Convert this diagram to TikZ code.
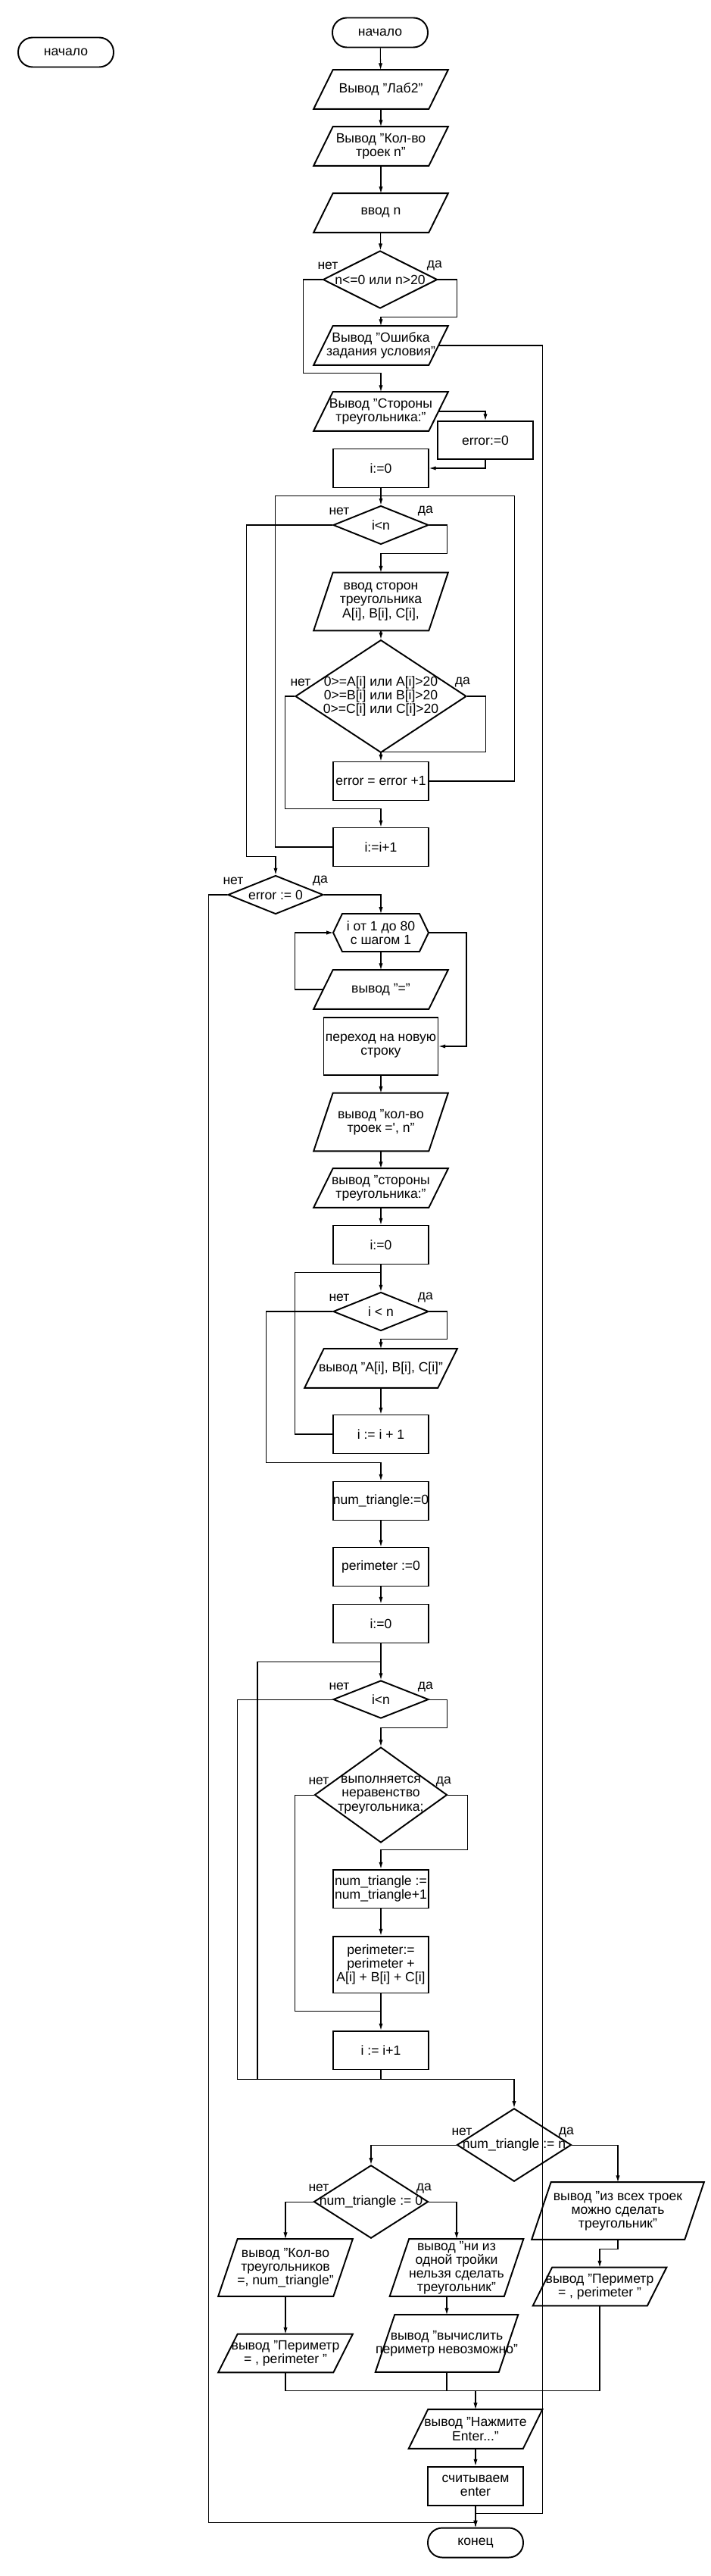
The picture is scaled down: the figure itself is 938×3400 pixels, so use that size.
\documentclass[tikz,border=0pt]{standalone}
\usepackage{fontspec}
\setmainfont{Liberation Sans}
\usetikzlibrary{shapes.geometric,arrows.meta}
\tikzset{
    term/.style={draw, line width=1.1pt, rounded corners=0.38cm, minimum width=2.52cm, minimum height=0.78cm, inner sep=1pt},
    proc/.style={draw, line width=1.1pt, minimum width=2.52cm, minimum height=1.02cm, inner sep=-3pt, align=center},
    io/.style={minimum width=3.54cm, minimum height=1.02cm, inner sep=0pt, align=center,
        append after command={\pgfextra{\draw [line width=1.1pt] ([xshift=0.51cm]\tikzlastnode.north west) -- (\tikzlastnode.north east) -- ([xshift=-0.51cm]\tikzlastnode.south east) -- (\tikzlastnode.south west) -- cycle;}}},
    iotall/.style={io, minimum height=1.52cm},
    cond/.style={draw, line width=1.1pt, diamond, minimum width=2.52cm, minimum height=1.02cm, inner sep=-8pt, align=center},
    lbl/.style={inner sep=1pt},
    line/.style={line width=0.6pt}
}
\begin{document}
\begin{tikzpicture}[x=0.02cm, y=-0.02cm, >={Latex[length=5pt,width=3pt]}, font=\fontsize{10}{10.3}\selectfont]
        \useasboundingbox (0,0) rectangle (938,3400);
        \node [term] (startL) at (87,69) {начало};
        \node [term] (start) at (502,43) {начало};
        \node [io] (outLab) at (503,118) {Вывод "Лаб2"};
        \node [io] (outCnt) at (503,193) {Вывод "Кол-во\\троек n"};
        \node [io] (inN) at (503,281) {ввод n};
        \node [cond, minimum width=3.02cm, minimum height=1.52cm] (chkN) at (502,369) {n<=0 или n>20};
        \node [io] (outErr) at (503,456) {Вывод "Ошибка\\задания условия"};
        \node [io] (outSides) at (503,543) {Вывод "Стороны\\треугольника:"};
        \node [proc, minimum height=1cm] (err0) at (641,581) {error:=0};
        \node [proc] (i0) at (503,618) {i:=0};
        \node [cond] (loop1) at (503,693) {i<n};
        \node [iotall] (inSides) at (503,794) {ввод сторон\\треугольника\\A[i], B[i], C[i],};
        \node [cond, minimum width=4.52cm, minimum height=2.52cm] (chkSides) at (503,919) {0>=A[i] или A[i]>20\\0>=B[i] или B[i]>20\\0>=C[i] или C[i]>20};
        \node [proc] (errInc) at (503,1031) {error = error +1};
        \node [proc] (inc1) at (503,1118) {i:=i+1};
        \node [cond] (chkErr) at (364,1181) {error := 0};
        \node [minimum width=2.52cm, minimum height=1cm, inner sep=0pt, outer sep=0pt, align=center] (forLoop) at (503,1231) {i от 1 до 80\\с шагом 1};
        \draw [line width=1.1pt] (forLoop.west) -- ([xshift=0.24cm]forLoop.north west) -- ([xshift=-0.24cm]forLoop.north east) -- (forLoop.east) -- ([xshift=-0.24cm]forLoop.south east) -- ([xshift=0.24cm]forLoop.south west) -- cycle;
        \node [io] (outEq) at (503,1306) {вывод "="};
        \node [proc, minimum width=3.02cm, minimum height=1.52cm] (newLine) at (503,1381) {переход на новую\\строку};
        \node [iotall] (outCntN) at (503,1481) {вывод "кол-во\\троек =\textquotesingle, n"};
        \node [io] (outSides2) at (503,1568) {вывод "стороны\\треугольника:"};
        \node [proc] (i0b) at (503,1643) {i:=0};
        \node [cond] (loop2) at (503,1731) {i < n};
        \node [io, minimum width=4.02cm] (outABC) at (503,1806) {вывод "A[i], B[i], C[i]"};
        \node [proc] (inc2) at (503,1893) {i := i + 1};
        \node [proc] (numT0) at (503,1981) {num\_triangle:=0};
        \node [proc] (per0) at (503,2068) {perimeter :=0};
        \node [proc] (i0c) at (503,2143) {i:=0};
        \node [cond, minimum height=1cm] (loop3) at (503,2243) {i<n};
        \node [cond, minimum width=3.5cm, minimum height=2.52cm] (chkTri) at (503,2369) {выполняется\\неравенство\\треугольника;};
        \node [proc] (numTInc) at (503,2493) {num\_triangle :=\\num\_triangle+1};
        \node [proc, minimum height=1.5cm] (perAdd) at (503,2593) {perimeter:=\\perimeter +\\A[i] + B[i] + C[i]};
        \node [proc] (inc3) at (503,2706) {i := i+1};
        \node [cond, minimum width=3.02cm, minimum height=1.52cm] (chkAll) at (679,2831) {num\_triangle := n};
        \node [cond, minimum width=3.02cm, minimum height=1.5cm] (chkNone) at (490,2906) {num\_triangle := 0};
        \node [iotall, minimum height=1.5cm] (outCntT) at (377,2993) {вывод "Кол-во\\треугольников\\=, num\_triangle"};
        \node [iotall, minimum height=1.5cm, minimum width=3.52cm] (outNone) at (603,2993) {вывод "ни из\\одной тройки\\нельзя сделать\\треугольник"};
        \node [iotall, minimum height=1.5cm, minimum width=4.54cm] (outAll) at (816,2918) {вывод "из всех троек\\можно сделать\\треугольник"};
        \node [io, minimum height=1cm, minimum width=3.52cm] (outPerR) at (792,3018) {вывод "Периметр\\= , perimeter "};
        \node [io, minimum height=1cm] (outPerL) at (377,3106) {вывод "Периметр\\= , perimeter "};
        \node [iotall, minimum height=1.5cm] (outNoPer) at (590,3093) {вывод "вычислить\\периметр невозможно"};
        \node [io, minimum width=3.52cm] (outEnter) at (628,3206) {вывод "Нажмите\\Enter..."};
        \node [proc] (readEnter) at (628,3281) {считываем\\enter};
        \node [term] (stop) at (628,3356) {конец};
        \node [lbl] (chkNno) at (433,351) {нет};
        \node [lbl] (chkNyes) at (574,351) {да};
        \node [lbl] (loop1no) at (448,675) {нет};
        \node [lbl] (loop1yes) at (562,675) {да};
        \node [lbl] (chkSidesno) at (397,901) {нет};
        \node [lbl] (chkSidesyes) at (611,901) {да};
        \node [lbl] (chkErrno) at (308,1163) {нет};
        \node [lbl] (chkErryes) at (423,1163) {да};
        \node [lbl] (loop2no) at (448,1713) {нет};
        \node [lbl] (loop2yes) at (562,1713) {да};
        \node [lbl] (loop3no) at (448,2226) {нет};
        \node [lbl] (loop3yes) at (562,2226) {да};
        \node [lbl] (chkTrino) at (421,2351) {нет};
        \node [lbl] (chkTriyes) at (586,2351) {да};
        \node [lbl] (chkAllno) at (610,2814) {нет};
        \node [lbl] (chkAllyes) at (748,2814) {да};
        \node [lbl] (chkNoneno) at (421,2888) {нет};
        \node [lbl] (chkNoneyes) at (560,2888) {да};
        \coordinate (join) at ([yshift=0.5cm]outEnter.north);
        \draw [line,->] (start) -- (outLab);
        \draw [line,->] (outLab) -- (outCnt);
        \draw [line,->] (outCnt) -- (inN);
        \draw [line,->] (inN) -- (chkN);
        \draw [line,->] (chkN.west) -- ++(-25,0) |- ([yshift=0.5cm]outSides.north) -- (outSides.north);
        \draw [line,->] (chkN.east) -- ++(25,0) |- ([yshift=0.24cm]outErr.north) -- (outErr.north);
        \draw [line,->] ([xshift=-0.25cm]outErr.east) -- ++(137,0) |- ([yshift=0.36cm]stop.north) -- (stop.north);
        \draw [line,->] ([xshift=-0.25cm]outSides.east) -| (err0.north);
        \draw [line,->] (err0.south) |- (i0.east);
        \draw [line,->] (i0) -- (loop1);
        \draw [line,->] (loop1.west) -- ++(-114,0) |- ([yshift=0.48cm]chkErr.north) -- (chkErr.north);
        \draw [line,->] (loop1.east) -- ++(24,0) |- ([yshift=0.5cm]inSides.north) -- (inSides.north);
        \draw [line,->] (inSides) -- (chkSides);
        \draw [line,->] (chkSides.west) -- ++(-13,0) |- ([yshift=0.48cm]inc1.north) -- (inc1.north);
        \draw [line,->] (chkSides.east) -- ++(25,0) |- ([yshift=0.24cm]errInc.north) -- (errInc.north);
        \draw [line] (errInc.east) -- ++(113,0) |- ([yshift=0.24cm]loop1.north);
        \draw [line] (inc1.west) -- ++(-76,0) |- ([yshift=0.24cm]loop1.north);
        \draw [line,->] (chkErr.west) -- ++(-25,0) |- ([yshift=0.12cm]stop.north) -- (stop.north);
        \draw [line,->] (chkErr.east) -| (forLoop.north);
        \draw [line,->] (forLoop) -- (outEq);
        \draw [line,->] ([xshift=0.25cm]outEq.west) -- ++(-37,0) |- (forLoop.west);
        \draw [line,->] (forLoop.east) -- ++(50,0) |- (newLine.east);
        \draw [line,->] (newLine) -- (outCntN);
        \draw [line,->] (outCntN) -- (outSides2);
        \draw [line,->] (outSides2) -- (i0b);
        \draw [line,->] (i0b) -- (loop2);
        \draw [line,->] (loop2.west) -- ++(-88,0) |- ([yshift=0.48cm]numT0.north) -- (numT0.north);
        \draw [line,->] (loop2.east) -- ++(24,0) |- ([yshift=0.26cm]outABC.north) -- (outABC.north);
        \draw [line,->] (outABC) -- (inc2);
        \draw [line] (inc2.west) -- ++(-50,0) |- ([yshift=0.5cm]loop2.north);
        \draw [line,->] (numT0) -- (per0);
        \draw [line,->] (per0) -- (i0c);
        \draw [line,->] (i0c) -- (loop3);
        \draw [line,->] (loop3.west) -- ++(-126,0) |- ([yshift=0.74cm]chkAll.north) -- (chkAll.north);
        \draw [line,->] (loop3.east) -- ++(24,0) |- ([yshift=0.5cm]chkTri.north) -- (chkTri.north);
        \draw [line] (chkTri.west) -- ++(-25,0) |- ([yshift=0.5cm]inc3.north);
        \draw [line,->] (chkTri.east) -- ++(26,0) |- ([yshift=0.5cm]numTInc.north) -- (numTInc.north);
        \draw [line,->] (numTInc) -- (perAdd);
        \draw [line,->] (perAdd) -- (inc3);
        \draw [line] (inc3.south) -- ++(0,12) -- ++(-163,0) |- ([yshift=0.48cm]loop3.north);
        \draw [line,->] (chkAll.west) -| (chkNone.north);
        \draw [line,->] (chkAll.east) -| (outAll.north);
        \draw [line,->] (chkNone.west) -| (outCntT.north);
        \draw [line,->] (chkNone.east) -| (outNone.north);
        \draw [line,->] (outCntT) -- (outPerL);
        \draw [line,->] (outNone.south -| outNoPer.north) -- (outNoPer.north);
        \draw [line,->] (outAll.south) -- ++(0,13) -| (outPerR.north);
        \draw [line] (outPerL.south) |- (join);
        \draw [line] (outPerR.south) |- (join);
        \draw [line] (outNoPer.south) -- ++(0,25);
        \draw [line,->] (join) -- (outEnter.north);
        \draw [line,->] (outEnter) -- (readEnter);
        \draw [line,->] (readEnter) -- (stop);
    \end{tikzpicture}
\end{document}
